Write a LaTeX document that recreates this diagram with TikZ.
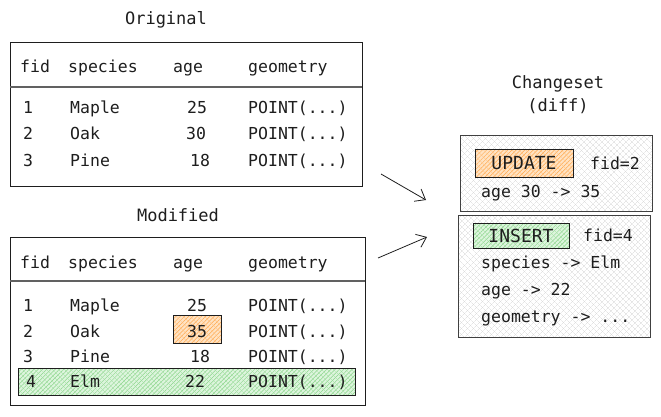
\documentclass[tikz,border=0pt]{standalone}
\usepackage{fontspec}
\setmainfont{DejaVu Sans Mono}
\usetikzlibrary{arrows.meta,patterns.meta}
\definecolor{ink}{HTML}{1E1E1E}
\definecolor{orfill}{HTML}{FFE3C4}
\definecolor{orhatch}{HTML}{FFA94D}
\definecolor{grfill}{HTML}{DDF5DD}
\definecolor{grhatch}{HTML}{8CD68C}
\definecolor{gyhatch}{HTML}{D8D8D8}
\tikzset{
  txt/.style={inner sep=0pt, font=\fontsize{16.5}{18}\selectfont, text=ink},
  ttl/.style={txt, font=\fontsize{17}{20}\selectfont},
  tablebox/.style={draw=ink, line width=0.9pt, inner sep=0pt},
  sepline/.style={draw=ink!70, line width=1.2pt},
  orhl/.style={draw=ink, line width=0.8pt, inner sep=0pt,
    preaction={fill=orfill},
    preaction={pattern={Lines[angle=45,distance=3pt,line width=0.5pt]}, pattern color=orhatch},
    preaction={pattern={Lines[angle=-45,distance=5pt,line width=0.3pt]}, pattern color=orhatch!70}},
  grhl/.style={draw=ink, line width=0.8pt, inner sep=0pt,
    preaction={fill=grfill},
    preaction={pattern={Lines[angle=45,distance=3pt,line width=0.5pt]}, pattern color=grhatch},
    preaction={pattern={Lines[angle=-45,distance=4pt,line width=0.4pt]}, pattern color=grhatch!80}},
  csbox/.style={draw=ink!85, line width=1pt, inner sep=0pt,
    preaction={fill=white},
    preaction={pattern={Lines[angle=45,distance=4pt,line width=0.4pt]}, pattern color=gyhatch},
    preaction={pattern={Lines[angle=-45,distance=4pt,line width=0.4pt]}, pattern color=gyhatch}},
  flow/.style={draw=ink, line width=0.8pt, -{Straight Barb[length=9pt,width=14pt,line width=0.8pt]}},
}
\begin{document}
\begin{tikzpicture}[x=1pt,y=-1pt]
\useasboundingbox[fill=white] (0,0) rectangle (661,416);

% ---------- Original ----------
\node[ttl] (origtitle) at (166,20) {Original};
\node[tablebox, minimum width=352pt, minimum height=144pt] (orig) at (186,114) {};
\coordinate (oL) at (10,87);
\coordinate (oR) at (362,87);
\draw[sepline] (oL) -- (oR);
\node[txt, anchor=base west] (oh1) at (20,72) {fid};
\node[txt, anchor=base west] (oh2) at (68,72) {species};
\node[txt, anchor=base west] (oh3) at (173,72) {age};
\node[txt, anchor=base west] (oh4) at (248,72) {geometry};

\node[txt, anchor=base] (o1a) at (28,113) {1};
\node[txt, anchor=base west] (o1b) at (70,113) {Maple};
\node[txt, anchor=base] (o1c) at (197,113) {25};
\node[txt, anchor=base west] (o1d) at (248,113) {POINT(...)};
\node[txt, anchor=base] (o2a) at (28,139) {2};
\node[txt, anchor=base west] (o2b) at (70,139) {Oak};
\node[txt, anchor=base] (o2c) at (196,139) {30};
\node[txt, anchor=base west] (o2d) at (248,139) {POINT(...)};
\node[txt, anchor=base] (o3a) at (28,166) {3};
\node[txt, anchor=base west] (o3b) at (70,166) {Pine};
\node[txt, anchor=base] (o3c) at (200,166) {18};
\node[txt, anchor=base west] (o3d) at (248,166) {POINT(...)};

% ---------- Modified ----------
\node[ttl] (modtitle) at (178,215) {Modified};
\node[tablebox, minimum width=355pt, minimum height=168pt] (mod) at (187.5,321) {};
\node[orhl, minimum width=48pt, minimum height=28pt] (hl35) at (197,329) {};
\node[grhl, minimum width=337pt, minimum height=27pt] (hlrow) at (186.5,381.5) {};
\coordinate (mL) at (10,281);
\coordinate (mR) at (365,281);
\draw[sepline] (mL) -- (mR);
\node[txt, anchor=base west] (mh1) at (20,268) {fid};
\node[txt, anchor=base west] (mh2) at (68,268) {species};
\node[txt, anchor=base west] (mh3) at (173,268) {age};
\node[txt, anchor=base west] (mh4) at (248,268) {geometry};

\node[txt, anchor=base] (m1a) at (28,311) {1};
\node[txt, anchor=base west] (m1b) at (70,311) {Maple};
\node[txt, anchor=base] (m1c) at (197,311) {25};
\node[txt, anchor=base west] (m1d) at (248,311) {POINT(...)};
\node[txt, anchor=base] (m2a) at (28,337) {2};
\node[txt, anchor=base west] (m2b) at (70,337) {Oak};
\node[txt, anchor=base] (m2c) at (197,337) {35};
\node[txt, anchor=base west] (m2d) at (248,337) {POINT(...)};
\node[txt, anchor=base] (m3a) at (28,362) {3};
\node[txt, anchor=base west] (m3b) at (70,362) {Pine};
\node[txt, anchor=base] (m3c) at (200,362) {18};
\node[txt, anchor=base west] (m3d) at (248,362) {POINT(...)};
\node[txt, anchor=base] (m4a) at (31,387) {4};
\node[txt, anchor=base west] (m4b) at (70,387) {Elm};
\node[txt, anchor=base] (m4c) at (195,387) {22};
\node[txt, anchor=base west] (m4d) at (248,387) {POINT(...)};

% ---------- Arrows ----------
\coordinate (a1s) at (381,174);
\coordinate (a1e) at (426,200);
\coordinate (a2s) at (378,258);
\coordinate (a2e) at (427,237);
\draw[flow] (a1s) -- (a1e);
\draw[flow] (a2s) -- (a2e);

% ---------- Changeset ----------
\node[ttl] (cstitle) at (558,84) {Changeset};
\node[ttl] (csdiff) at (558,106) {(diff)};

\node[csbox, minimum width=192pt, minimum height=76pt] (upd) at (556,173) {};
\node[orhl, minimum width=98pt, minimum height=28pt,
      font=\fontsize{18}{20}\selectfont, text=ink] (updlbl) at (524,163) {UPDATE};
\node[txt] (updfid) at (615,163) {fid=2};
\node[txt, anchor=base west] (updage) at (481,197) {age 30 -> 35};

\node[csbox, minimum width=192pt, minimum height=122pt] (ins) at (554,276) {};
\node[grhl, minimum width=96pt, minimum height=25pt,
      font=\fontsize{18}{20}\selectfont, text=ink] (inslbl) at (521,235.5) {INSERT};
\node[txt] (insfid) at (608,235) {fid=4};
\node[txt, anchor=base west] (ins1) at (481,268) {species -> Elm};
\node[txt, anchor=base west] (ins2) at (481,295) {age -> 22};
\node[txt, anchor=base west] (ins3) at (481,322) {geometry -> ...};
\end{tikzpicture}
\end{document}
